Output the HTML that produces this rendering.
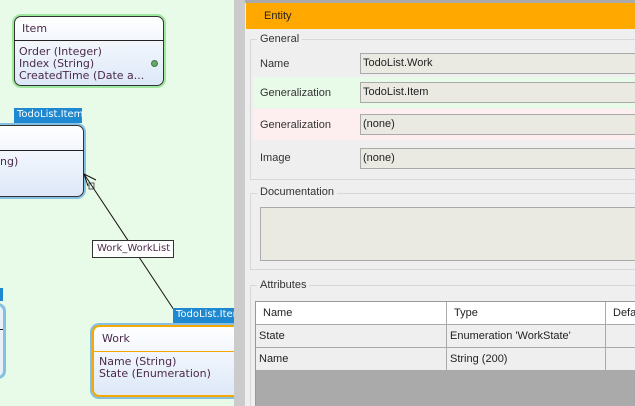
<!DOCTYPE html>
<html><head><style>
html,body{margin:0;width:635px;height:406px;overflow:hidden}
body{position:relative;font-family:"Liberation Sans",sans-serif;background:#efefef}
.a{position:absolute;box-sizing:border-box}
.t{font-size:11px;color:#333}
.d{font-family:"DejaVu Sans",sans-serif;font-size:11px;color:#4a2a4a;line-height:12px}
.box{background:linear-gradient(#fff,#dde8f8);border:1px solid #333;border-radius:7px}
.lbl{background:#1e88d0;color:#fff;font-size:10px;padding:1px 3px;font-family:"DejaVu Sans",sans-serif}
.inp{background:#eae9e2;border:1px solid #aaa;font-size:11px;padding:3px 2px;color:#222}
</style></head><body>
<div class="a" style="left:0;top:0;width:234px;height:406px;background:#e8fbe8;overflow:hidden">
<!-- Item -->
<div class="a" style="left:12px;top:14px;width:154px;height:74px;border:3px solid #9fe99f;border-radius:9px"></div>
<div class="a box" style="left:14px;top:16px;width:150px;height:70px"></div>
<div class="a" style="left:14px;top:40px;width:150px;height:1px;background:#222"></div>
<div class="a d" style="left:22px;top:23px">Item</div>
<div class="a d" style="left:19px;top:46px">Order (Integer)<br>Index (String)<br>CreatedTime (Date a...</div>
<div class="a" style="left:151px;top:60px;width:7px;height:7px;border-radius:50%;background:#6a6;border:1px solid #474"></div>
<!-- TodoList item box -->
<div class="a lbl" style="left:14px;top:108px;width:68px;height:15px">TodoList.Item</div>
<div class="a" style="left:-10px;top:123px;width:96px;height:76px;border:3px solid #86c0e0;border-radius:9px"></div>
<div class="a box" style="left:-8px;top:125px;width:92px;height:72px"></div>
<div class="a" style="left:0;top:150px;width:84px;height:1px;background:#222"></div>
<div class="a d" style="left:0;top:156px">ng)</div>
<!-- left partial -->
<div class="a" style="left:0;top:288px;width:3px;height:13px;background:#1e88d0"></div>
<div class="a" style="left:-10px;top:303px;width:16px;height:76px;border:3px solid #86c0e0;border-radius:9px;background:#e8f0fa"></div>
<div class="a" style="left:0;top:329px;width:3px;height:1px;background:#222"></div>
<!-- connector -->
<svg class="a" style="left:0;top:0" width="234" height="406"><line x1="84" y1="174" x2="182" y2="322" stroke="#111" stroke-width="1"/><polyline points="96,180 84,174 88,186" fill="none" stroke="#111"/><rect x="89" y="183" width="5" height="6" fill="none" stroke="#333" stroke-width="0.8"/><circle cx="183" cy="324" r="2.5" fill="#111"/></svg>
<div class="a" style="left:92px;top:240px;width:82px;height:18px;background:#fff;border:1px solid #333;font-family:'DejaVu Sans',sans-serif;font-size:10px;color:#4a2a4a;padding:2px 4px">Work_WorkList</div>
<!-- Work -->
<div class="a lbl" style="left:173px;top:308px;width:70px;height:15px;overflow:hidden;white-space:nowrap">TodoList.Item</div>
<div class="a" style="left:90px;top:323px;width:160px;height:76px;border:3px solid #86c0e0;border-radius:9px"></div>
<div class="a" style="left:92px;top:325px;width:156px;height:72px;background:linear-gradient(#fff,#dde8f8);border:2px solid #f6a800;border-radius:7px"></div>
<div class="a" style="left:93px;top:351px;width:141px;height:1px;background:#f6a800"></div>
<div class="a d" style="left:102px;top:333px">Work</div>
<div class="a d" style="left:99px;top:356px">Name (String)<br>State (Enumeration)</div>
</div>
<div class="a" style="left:234px;top:0;width:11px;height:406px;background:#cbcbcb"></div>
<!-- right panel -->
<div class="a" style="left:245px;top:0;width:390px;height:3px;background:#aaa"></div>
<div class="a" style="left:246px;top:3px;width:389px;height:26px;background:#ffa800"></div>
<div class="a t" style="left:264px;top:10px;font-size:11px;color:#222">Entity</div>
<div class="a" style="left:250px;top:39px;width:390px;height:141px;border:1px solid #d8d8d8"></div>
<div class="a t" style="left:257px;top:33px;background:#efefef;padding:0 3px">General</div>
<div class="a" style="left:253px;top:77px;width:390px;height:31px;background:#e8fbe8"></div>
<div class="a" style="left:253px;top:109px;width:390px;height:31px;background:#fdefef"></div>
<div class="a t" style="left:260px;top:58px">Name</div>
<div class="a t" style="left:260px;top:87px">Generalization</div>
<div class="a t" style="left:260px;top:119px">Generalization</div>
<div class="a t" style="left:260px;top:152px">Image</div>
<div class="a inp" style="left:360px;top:53px;width:280px;height:21px">TodoList.Work</div>
<div class="a inp" style="left:360px;top:82px;width:280px;height:21px">TodoList.Item</div>
<div class="a inp" style="left:360px;top:114px;width:280px;height:21px">(none)</div>
<div class="a inp" style="left:360px;top:148px;width:280px;height:21px">(none)</div>
<div class="a" style="left:250px;top:193px;width:390px;height:77px;border:1px solid #d8d8d8"></div>
<div class="a t" style="left:257px;top:186px;background:#efefef;padding:0 3px">Documentation</div>
<div class="a" style="left:260px;top:207px;width:380px;height:54px;background:#eae9e2;border:1px solid #aaa"></div>
<div class="a" style="left:250px;top:285px;width:390px;height:130px;border:1px solid #d8d8d8"></div>
<div class="a t" style="left:257px;top:279px;background:#efefef;padding:0 3px">Attributes</div>
<div class="a" style="left:255px;top:301px;width:385px;height:110px;background:#aaa;border:1px solid #999"></div>
<div class="a" style="left:256px;top:302px;width:384px;height:22px;background:#fff"></div>
<div class="a" style="left:256px;top:324px;width:384px;height:46px;background:#efefef;border-top:1px solid #aaa"></div>
<div class="a" style="left:256px;top:347px;width:384px;height:1px;background:#aaa"></div>
<div class="a" style="left:446px;top:302px;width:1px;height:68px;background:#aaa"></div>
<div class="a" style="left:605px;top:302px;width:1px;height:68px;background:#aaa"></div>
<div class="a t" style="left:263px;top:307px;color:#222">Name</div>
<div class="a t" style="left:454px;top:307px;color:#222">Type</div>
<div class="a t" style="left:613px;top:307px;color:#222">Defa</div>
<div class="a t" style="left:259px;top:330px;color:#222">State</div>
<div class="a t" style="left:450px;top:330px;color:#222">Enumeration 'WorkState'</div>
<div class="a t" style="left:259px;top:353px;color:#222">Name</div>
<div class="a t" style="left:450px;top:353px;color:#222">String (200)</div>
</body></html>
